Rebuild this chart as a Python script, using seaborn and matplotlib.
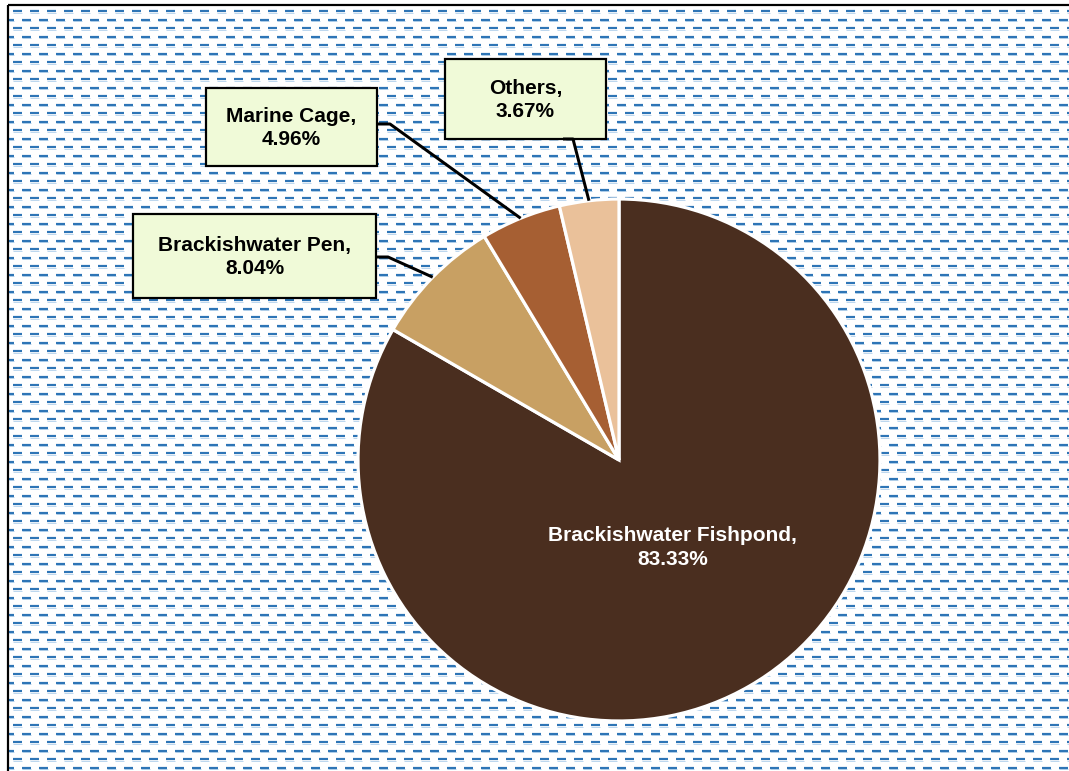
import matplotlib
matplotlib.use("Agg")
import matplotlib.pyplot as plt
import numpy as np
import seaborn as sns
from matplotlib.patches import Rectangle

# data
categories = ["Brackishwater Fishpond", "Brackishwater Pen", "Marine Cage", "Others"]
shares = [83.33, 8.04, 4.96, 3.67]
colors = ["#4A2E1F", "#C8A063", "#A65F33", "#EAC19A"]

W, H = 1069, 771
PT = 0.72  # points per pixel at 100 dpi

sns.set_theme(style="white")
plt.rcParams["font.family"] = ["Liberation Sans", "DejaVu Sans"]
plt.rcParams["lines.scale_dashes"] = False

fig = plt.figure(figsize=(W / 100, H / 100), dpi=100)
fig.patch.set_facecolor("white")

# background axes in pixel coordinates (y downwards)
bg = fig.add_axes([0, 0, 1, 1], zorder=0)
bg.set_xlim(0, W)
bg.set_ylim(H, 0)
bg.axis("off")

# dashed-line fill pattern
y, row = 11.0, 0
while y < H + 5:
    if row % 2 == 0:
        x0, off = 13, 0
    else:
        x0, off = 9, 4 * PT
    bg.plot([x0, W], [y + 1.5, y + 1.5], color="#BDD7EE", lw=1 * PT,
            linestyle=(off, (9 * PT, 8 * PT)), dash_capstyle="butt")
    bg.plot([x0, W], [y, y], color="#2E75B6", lw=2.2 * PT,
            linestyle=(off, (9 * PT, 8 * PT)), dash_capstyle="butt")
    y += 8.5
    row += 1

# chart border (top and left visible)
bg.plot([8, W], [5, 5], color="black", lw=2.2 * PT, solid_capstyle="butt")
bg.plot([8, 8], [5, H], color="black", lw=2.2 * PT, solid_capstyle="butt")

# pie
cx, cy, r = 619, 460, 261
box = r + 6
pie_ax = fig.add_axes([(cx - box) / W, (H - cy - box) / H, 2 * box / W, 2 * box / H], zorder=1)
wedges, _ = pie_ax.pie(shares, colors=colors, startangle=90, counterclock=False,
                       wedgeprops=dict(edgecolor="white", linewidth=3.2 * PT))
lim = box / r
pie_ax.set_xlim(-lim, lim)
pie_ax.set_ylim(-lim, lim)
pie_ax.axis("off")

pie_ax.text(0.205, -0.335, f"{categories[0]},\n{shares[0]:.2f}%", ha="center", va="center",
            color="white", fontsize=15, fontweight="bold", linespacing=1.3)

# callout boxes: (x0, y0, x1, y1) and leader path start/elbow in pixels
callouts = {
    1: dict(rect=(133, 214, 376, 298), path=[(376, 257), (388, 257)]),
    2: dict(rect=(206, 88, 377, 166), path=[(377, 124), (390, 124)]),
    3: dict(rect=(445, 59, 606, 139), path=[(563, 139), (573, 139)]),
}

overlay = fig.add_axes([0, 0, 1, 1], zorder=2)
overlay.set_xlim(0, W)
overlay.set_ylim(H, 0)
overlay.axis("off")

for i, spec in callouts.items():
    w = wedges[i]
    theta = np.deg2rad((w.theta1 + w.theta2) / 2)
    disp = pie_ax.transData.transform((np.cos(theta), np.sin(theta)))
    tx, ty = overlay.transData.inverted().transform(disp)
    pts = spec["path"] + [(tx, ty)]
    overlay.plot([p[0] for p in pts], [p[1] for p in pts], color="black", lw=3 * PT,
                 solid_capstyle="butt")
    x0, y0, x1, y1 = spec["rect"]
    overlay.add_patch(Rectangle((x0, y0), x1 - x0, y1 - y0, facecolor="#F0FAD8",
                                edgecolor="black", lw=2.2 * PT))
    overlay.text((x0 + x1) / 2, (y0 + y1) / 2 + 1, f"{categories[i]},\n{shares[i]:.2f}%",
                 ha="center", va="center", color="black", fontsize=15, fontweight="bold",
                 linespacing=1.3)

fig.savefig("out.png", dpi=100)
